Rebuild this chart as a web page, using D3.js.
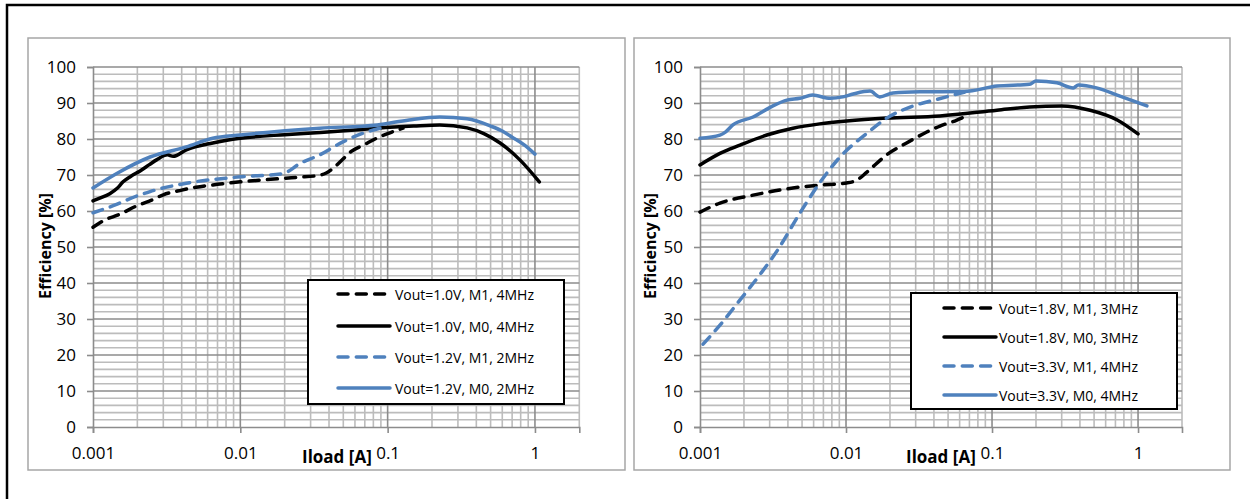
<!DOCTYPE html>
<html lang="en">
<head>
    <meta charset="utf-8">
    <script src="https://d3js.org/d3.v7.min.js"></script>
    <style>
        body { margin: 0; background: #fff; }
        text { font-family: "Open Sans", sans-serif; fill: #000; }
    </style>
</head>
<body>
    <svg width="1250" height="499"></svg>
    <script>
        // data: [Iload A, efficiency %]
        const v10_m1_4mhz = [[0.001,55.5],[0.0012,57.5],[0.0015,59],[0.002,61.5],[0.0025,63],[0.003,64.5],[0.004,65.8],[0.005,66.6],[0.007,67.4],[0.01,68.1],[0.015,68.7],[0.02,69.1],[0.025,69.4],[0.033,69.8],[0.038,70.5],[0.043,72],[0.05,74.5],[0.056,76.4],[0.07,78.5],[0.085,80.3],[0.1,81.5],[0.127,83]];
        const v10_m0_4mhz = [[0.001,62.8],[0.0011,63.5],[0.0013,64.8],[0.00146,66.3],[0.0016,68.1],[0.0018,69.6],[0.0021,71.2],[0.0024,72.8],[0.0027,74.2],[0.0032,75.6],[0.0035,75.2],[0.0043,77],[0.0065,78.9],[0.01,80.2],[0.02,81.2],[0.035,81.8],[0.06,82.5],[0.085,83],[0.15,83.6],[0.226,83.9],[0.346,83.1],[0.45,81.5],[0.58,78.9],[0.79,74.2],[1.07,68.1]];
        const v12_m1_2mhz = [[0.001,59.5],[0.00146,61.9],[0.0018,63.5],[0.00244,65.4],[0.0043,67.7],[0.01,69.5],[0.0195,70.4],[0.0254,73.2],[0.0346,75.6],[0.0497,79.2],[0.0726,82],[0.089,83]];
        const v12_m0_2mhz = [[0.001,66.4],[0.00146,70.5],[0.00244,75],[0.0043,77.8],[0.0065,80.2],[0.01,81.1],[0.0346,83],[0.085,83.9],[0.14,85.3],[0.226,86.1],[0.346,85.6],[0.5,83.6],[0.6,82.2],[0.7,80.5],[0.85,78.3],[1.0,75.8]];

        const v18_m1_3mhz = [[0.001,59.7],[0.00137,62.2],[0.00231,64.4],[0.00433,66.4],[0.0066,67.2],[0.0101,67.8],[0.0119,68.6],[0.0139,70.8],[0.019,75.6],[0.026,78.9],[0.036,82],[0.044,83.6],[0.057,85.2],[0.065,86.2]];
        const v18_m0_3mhz = [[0.001,72.8],[0.00137,76],[0.00188,78.3],[0.00287,81.1],[0.00433,83],[0.0066,84.2],[0.0101,85],[0.019,85.8],[0.044,86.4],[0.108,88],[0.181,88.9],[0.3,89.2],[0.47,88],[0.72,85.3],[1.0,81.4]];
        const v33_m1_4mhz = [[0.00105,23],[0.00137,28.3],[0.00188,35.3],[0.00258,42.4],[0.00338,49],[0.00483,59.4],[0.0066,67.8],[0.0091,75],[0.0139,81.6],[0.019,85.8],[0.029,89.2],[0.042,91],[0.0645,93]];
        const v33_m0_4mhz = [[0.001,80.2],[0.00137,81.1],[0.0015,82],[0.00168,83.9],[0.00231,86.1],[0.00316,89.2],[0.00394,90.8],[0.00483,91.3],[0.0059,92.2],[0.0078,91.3],[0.0095,91.7],[0.0112,92.5],[0.0146,93.3],[0.017,91.7],[0.021,92.8],[0.032,93.1],[0.0645,93.2],[0.108,94.7],[0.181,95.2],[0.2,96.1],[0.278,95.6],[0.36,94.2],[0.39,95],[0.52,94.2],[0.72,92.2],[1.15,89.2]];

        const leftNames = ["Vout=1.0V, M1, 4MHz", "Vout=1.0V, M0, 4MHz", "Vout=1.2V, M1, 2MHz", "Vout=1.2V, M0, 2MHz"];
        const rightNames = ["Vout=1.8V, M1, 3MHz", "Vout=1.8V, M0, 3MHz", "Vout=3.3V, M1, 4MHz", "Vout=3.3V, M0, 4MHz"];
        const xTicks = [0.001, 0.01, 0.1, 1];
        const xTickLabels = ["0.001", "0.01", "0.1", "1"];
        const yTicks = [0, 10, 20, 30, 40, 50, 60, 70, 80, 90, 100];

        const blue = "#4f81bd";
        const styles = [
            {color: "#000", dash: "10,8.3"},
            {color: "#000", dash: null},
            {color: blue, dash: "10,8.3"},
            {color: blue, dash: null}
        ];

        const svg = d3.select("svg");

        // outer black frame, runs off the right and bottom edges
        svg.append("rect")
            .attr("x", 7).attr("y", 5)
            .attr("width", 1260).attr("height", 520)
            .attr("fill", "none").attr("stroke", "#000").attr("stroke-width", 2.5);

        function drawChart(cfg) {
            const g = svg.append("g");

            g.append("rect")
                .attr("x", cfg.frame[0]).attr("y", cfg.frame[1])
                .attr("width", cfg.frame[2]).attr("height", cfg.frame[3])
                .attr("fill", "#fff").attr("stroke", "#a6a6a6").attr("stroke-width", 1.5);

            const x = d3.scaleLog().domain([0.001, 2]).range([cfg.x0, cfg.x1]);
            const y = d3.scaleLinear().domain([0, 100]).range([427, 67]);

            // minor grid
            const minorX = [];
            [0.001, 0.01, 0.1].forEach(d => { for (let k = 2; k <= 9; k++) minorX.push(d * k); });
            minorX.push(2);
            const minorY = d3.range(0, 101, 2).filter(v => v % 10 !== 0);

            g.append("g").selectAll("line").data(minorX).join("line")
                .attr("x1", d => x(d)).attr("x2", d => x(d))
                .attr("y1", y(0)).attr("y2", y(100))
                .attr("stroke", "#bcbcbc").attr("stroke-width", 1.6);
            g.append("g").selectAll("line").data(minorY).join("line")
                .attr("x1", x(0.001)).attr("x2", x(2))
                .attr("y1", d => y(d)).attr("y2", d => y(d))
                .attr("stroke", "#bcbcbc").attr("stroke-width", 1.6);

            // major grid
            g.append("g").selectAll("line").data(yTicks.slice(1)).join("line")
                .attr("x1", x(0.001)).attr("x2", x(2))
                .attr("y1", d => y(d)).attr("y2", d => y(d))
                .attr("stroke", "#8c8c8c").attr("stroke-width", 1.6);
            g.append("g").selectAll("line").data(xTicks.slice(1)).join("line")
                .attr("x1", d => x(d)).attr("x2", d => x(d))
                .attr("y1", y(0)).attr("y2", y(100))
                .attr("stroke", "#8c8c8c").attr("stroke-width", 1.6);

            // axes
            const yAxis = g.append("g")
                .attr("transform", `translate(${cfg.x0},0)`)
                .call(d3.axisLeft(y).tickValues(yTicks).tickSize(6).tickPadding(11));
            const xAxis = g.append("g")
                .attr("transform", `translate(0,${y(0)})`)
                .call(d3.axisBottom(x).tickValues(xTicks).tickFormat((d, i) => xTickLabels[i]).tickSize(6).tickPadding(14));
            [yAxis, xAxis].forEach(a => {
                a.select(".domain").attr("stroke", "#8c8c8c").attr("stroke-width", 1.6);
                a.selectAll(".tick line").attr("stroke", "#8c8c8c").attr("stroke-width", 1.6);
                a.selectAll(".tick text").attr("font-size", 17).attr("font-family", "Open Sans").attr("fill", "#000");
            });

            // series
            const line = d3.line().x(d => x(d[0])).y(d => y(d[1])).curve(d3.curveMonotoneX);
            g.append("g").selectAll("path").data(cfg.series).join("path")
                .attr("d", line)
                .attr("fill", "none")
                .attr("stroke", (d, i) => styles[i].color)
                .attr("stroke-width", 3.5)
                .attr("stroke-linecap", "round")
                .attr("stroke-linejoin", "round")
                .attr("stroke-dasharray", (d, i) => styles[i].dash);

            // axis titles
            g.append("text")
                .attr("x", cfg.xTitle).attr("y", 463)
                .attr("font-size", 17).attr("font-weight", "bold")
                .text("Iload [A]");
            g.append("text")
                .attr("transform", `translate(${cfg.yTitle},246) rotate(-90)`)
                .attr("text-anchor", "middle").attr("dominant-baseline", "central")
                .attr("font-size", 16).attr("font-weight", "bold")
                .text("Efficiency [%]");

            // legend
            const lg = cfg.legend;
            g.append("rect")
                .attr("x", lg.x).attr("y", lg.y).attr("width", lg.w).attr("height", lg.h)
                .attr("fill", "#fff").attr("stroke", "#000").attr("stroke-width", 2);
            const item = g.append("g").selectAll("g").data(cfg.names).join("g")
                .attr("transform", (d, i) => `translate(0,${lg.rows[i]})`);
            item.append("line")
                .attr("x1", lg.s0)
                .attr("x2", (d, i) => styles[i].dash ? lg.s0 + 48.6 : lg.s1)
                .attr("stroke", (d, i) => styles[i].color)
                .attr("stroke-width", 3.5)
                .attr("stroke-linecap", "round")
                .attr("stroke-dasharray", (d, i) => styles[i].dash);
            item.append("text")
                .attr("x", lg.tx).attr("dominant-baseline", "central")
                .attr("font-size", 14)
                .text(d => d);
        }

        drawChart({
            frame: [28, 38, 597, 432], x0: 93, x1: 579.3,
            series: [v10_m1_4mhz, v10_m0_4mhz, v12_m1_2mhz, v12_m0_2mhz],
            names: leftNames, xTitle: 302, yTitle: 45,
            legend: {x: 308, y: 280, w: 256, h: 124, rows: [294, 326, 357, 388], s0: 338, s1: 390, tx: 395}
        });
        drawChart({
            frame: [634, 38, 596, 432], x0: 700, x1: 1182,
            series: [v18_m1_3mhz, v18_m0_3mhz, v33_m1_4mhz, v33_m0_4mhz],
            names: rightNames, xTitle: 906, yTitle: 650,
            legend: {x: 911, y: 293, w: 266, h: 116, rows: [308, 337, 366, 395], s0: 944, s1: 996, tx: 999}
        });
    </script>
</body>
</html>
